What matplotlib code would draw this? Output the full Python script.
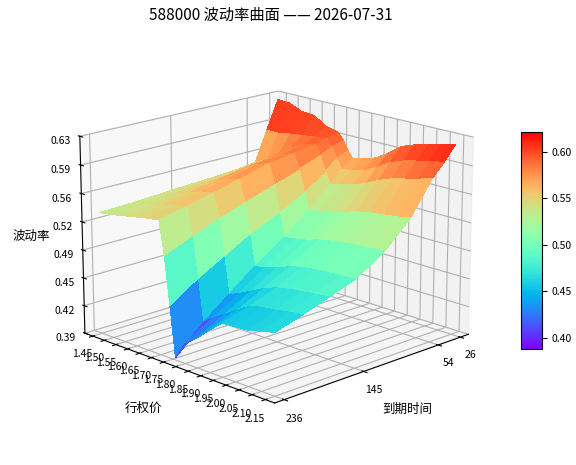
import numpy as np
import matplotlib
matplotlib.use('Agg')
import matplotlib.pyplot as plt
from matplotlib.ticker import FormatStrFormatter

plt.rcParams['font.family'] = ['Noto Sans CJK SC', 'DejaVu Sans']
plt.rcParams['axes.unicode_minus'] = False

# 行权价 / 到期天数
strikes = [1.45, 1.50, 1.55, 1.60, 1.65, 1.70, 1.72, 1.74, 1.76, 1.80,
           1.85, 1.90, 1.95, 2.00, 2.05, 2.10, 2.15]
strike_ticks = [1.45, 1.50, 1.55, 1.60, 1.65, 1.70, 1.75, 1.80,
                1.85, 1.90, 1.95, 2.00, 2.05, 2.10, 2.15]
days = [26, 40, 54, 80, 110, 145, 175, 205, 236]
day_ticks = [26, 54, 145, 236]

# 波动率 (rows = days, cols = strikes)
iv_26 = [0.621, 0.620, 0.613, 0.612, 0.602, 0.598, 0.590, 0.578, 0.570, 0.573, 0.578, 0.588, 0.600, 0.606, 0.610, 0.614, 0.618]
iv_40 = [0.585, 0.585, 0.588, 0.590, 0.592, 0.594, 0.585, 0.572, 0.560, 0.562, 0.566, 0.574, 0.584, 0.590, 0.594, 0.598, 0.600]
iv_54 = [0.548, 0.555, 0.566, 0.578, 0.586, 0.590, 0.578, 0.560, 0.545, 0.548, 0.552, 0.558, 0.566, 0.572, 0.576, 0.580, 0.585]
iv_80 = [0.544, 0.550, 0.560, 0.572, 0.580, 0.586, 0.568, 0.542, 0.520, 0.522, 0.525, 0.530, 0.535, 0.538, 0.540, 0.542, 0.545]
iv_110 = [0.542, 0.548, 0.557, 0.568, 0.576, 0.581, 0.558, 0.525, 0.495, 0.497, 0.500, 0.505, 0.508, 0.510, 0.512, 0.513, 0.515]
iv_145 = [0.540, 0.545, 0.552, 0.561, 0.567, 0.571, 0.546, 0.508, 0.470, 0.472, 0.477, 0.483, 0.487, 0.489, 0.490, 0.491, 0.492]
iv_175 = [0.538, 0.542, 0.548, 0.555, 0.560, 0.563, 0.535, 0.490, 0.445, 0.450, 0.458, 0.466, 0.472, 0.475, 0.477, 0.479, 0.481]
iv_205 = [0.536, 0.539, 0.543, 0.548, 0.552, 0.555, 0.522, 0.472, 0.420, 0.430, 0.440, 0.450, 0.460, 0.463, 0.465, 0.468, 0.470]
iv_236 = [0.535, 0.537, 0.540, 0.543, 0.546, 0.548, 0.508, 0.450, 0.388, 0.410, 0.422, 0.437, 0.450, 0.451, 0.452, 0.456, 0.460]

z_lo, z_hi = 0.3855, 0.627
c_lo, c_hi = 0.388, 0.6215

X, Y = np.meshgrid(strikes, days)
Z = np.array([iv_26, iv_40, iv_54, iv_80, iv_110, iv_145, iv_175, iv_205, iv_236])

fig = plt.figure(figsize=(5.76, 4.65), dpi=100)
ax = fig.add_axes([0.066, 0.02, 0.808, 0.918], projection='3d')
surf = ax.plot_surface(X, Y, Z, cmap='rainbow', rstride=1, cstride=1,
                       linewidth=0, antialiased=False, vmin=c_lo, vmax=c_hi)

ax.set_xlim(1.415, 2.185)
ax.set_ylim(246.5, 15.5)
ax.set_zlim(z_lo, z_hi)
ax.set_xticks(strike_ticks)
ax.xaxis.set_major_formatter(FormatStrFormatter('%.2f'))
ax.set_yticks(day_ticks)
ax.set_zticks(np.linspace(z_lo, z_hi, 8))
ax.zaxis.set_major_formatter(FormatStrFormatter('%.2f'))
ax.tick_params(labelsize=7.5, pad=0)
ax.zaxis.set_ticks_position('upper')
ax.zaxis.set_label_position('upper')

ax.set_xlabel('行权价', fontsize=9)
ax.set_ylabel('到期时间', fontsize=9)
ax.set_zlabel('波动率', fontsize=9, labelpad=0)
ax.view_init(elev=17, azim=-44.5)

fig.text(0.4705, 0.968, '588000 波动率曲面 —— 2026-07-31', fontsize=11,
         ha='center', va='center')

cax = fig.add_axes([0.9045, 0.2495, 0.0365, 0.4667])
cb = fig.colorbar(surf, cax=cax)
cb.set_ticks([0.40, 0.45, 0.50, 0.55, 0.60])
cb.ax.yaxis.set_major_formatter(FormatStrFormatter('%.2f'))
cb.ax.tick_params(labelsize=7.5)

plt.savefig('out.png', dpi=100)
